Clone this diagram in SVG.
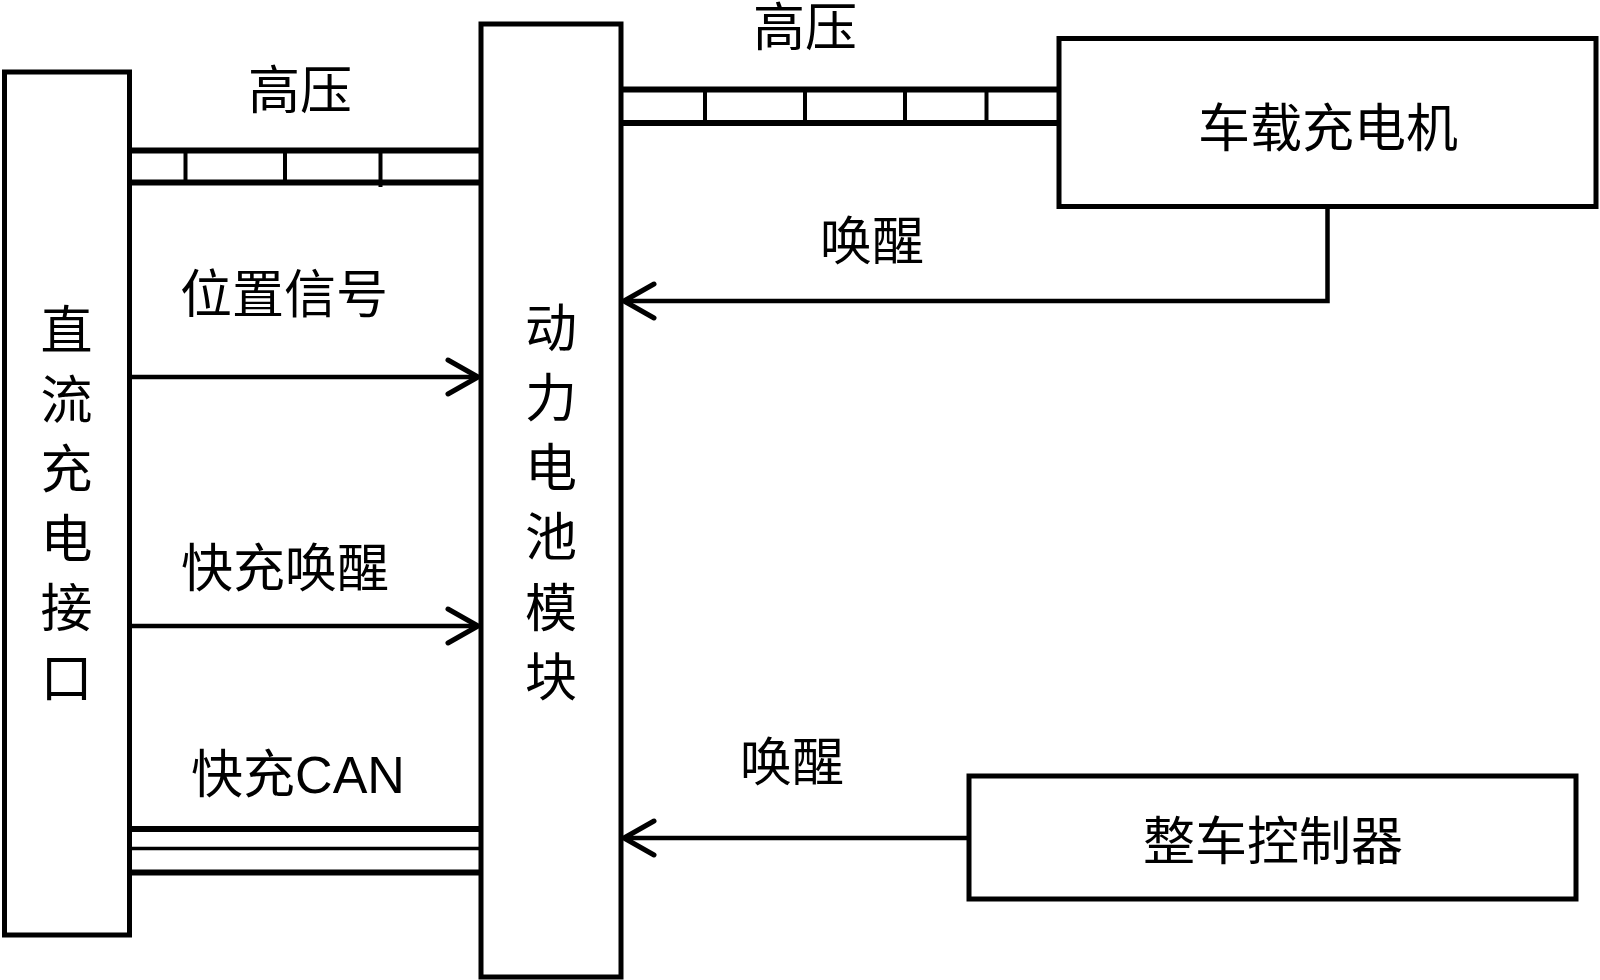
<svg xmlns="http://www.w3.org/2000/svg" width="1600" height="980" viewBox="0 0 1600 980">
<style>
.box{fill:#fff;stroke:#000;stroke-width:5}
.lbl{font-family:"Noto Sans CJK SC","Liberation Sans",sans-serif;font-size:52px;fill:#000;text-anchor:middle}
.rail{stroke:#000;stroke-width:6;fill:none}
.tick{stroke:#000;stroke-width:4;fill:none}
.thin{stroke:#000;stroke-width:3.5;fill:none}
.sig{stroke:#000;stroke-width:4.5;fill:none}
</style>
<defs>
<marker id="chev" viewBox="-36 -22 42 44" refX="0" refY="0" markerUnits="userSpaceOnUse" markerWidth="42" markerHeight="44" orient="auto">
<path d="M-30,-17 L0,0 L-30,17" fill="none" stroke="#000" stroke-width="5" stroke-linecap="round" stroke-linejoin="round"/>
</marker>
</defs>
<rect x="0" y="0" width="1600" height="980" fill="#fff"/>
<g id="connectors">
<g id="hv-left">
<line class="rail" x1="129" y1="150.5" x2="481" y2="150.5"/>
<line class="rail" x1="129" y1="182.5" x2="481" y2="182.5"/>
<line class="tick" x1="185.5" y1="150" x2="185.5" y2="183"/>
<line class="tick" x1="285" y1="150" x2="285" y2="183"/>
<line class="tick" x1="380.5" y1="150" x2="380.5" y2="187"/>
</g>
<g id="hv-right">
<line class="rail" x1="621" y1="89.5" x2="1059" y2="89.5"/>
<line class="rail" x1="621" y1="123" x2="1059" y2="123"/>
<line class="tick" x1="705" y1="89" x2="705" y2="123"/>
<line class="tick" x1="805" y1="89" x2="805" y2="123"/>
<line class="tick" x1="905" y1="89" x2="905" y2="123"/>
<line class="tick" x1="986.5" y1="89" x2="986.5" y2="123"/>
</g>
<line class="sig" x1="129" y1="377" x2="478" y2="377" marker-end="url(#chev)"/>
<line class="sig" x1="129" y1="626" x2="478" y2="626" marker-end="url(#chev)"/>
<g id="can">
<line class="rail" x1="129" y1="829" x2="481" y2="829"/>
<line class="thin" x1="129" y1="848.5" x2="481" y2="848.5"/>
<line class="rail" x1="129" y1="872.5" x2="481" y2="872.5"/>
</g>
<path class="sig" d="M1327.5,206 V301 H624" marker-end="url(#chev)"/>
<line class="sig" x1="969" y1="838" x2="624" y2="838" marker-end="url(#chev)"/>
</g>
<g id="dc-port">
<rect class="box" x="4.5" y="72" width="125" height="863"/>
<text class="lbl" x="66.5" y="349">直</text>
<text class="lbl" x="66.5" y="418.5">流</text>
<text class="lbl" x="66.5" y="488">充</text>
<text class="lbl" x="66.5" y="557.5">电</text>
<text class="lbl" x="66.5" y="627">接</text>
<text class="lbl" x="66.5" y="696.5">口</text>
</g>
<g id="battery">
<rect class="box" x="481" y="24" width="140" height="953"/>
<text class="lbl" x="551" y="347">动</text>
<text class="lbl" x="551" y="417">力</text>
<text class="lbl" x="551" y="487">电</text>
<text class="lbl" x="551" y="556">池</text>
<text class="lbl" x="551" y="627">模</text>
<text class="lbl" x="551" y="696">块</text>
</g>
<g id="obc">
<rect class="box" x="1059" y="38.5" width="537" height="168"/>
<text class="lbl" x="1328" y="147">车载充电机</text>
</g>
<g id="vcu">
<rect class="box" x="969" y="776" width="607" height="123"/>
<text class="lbl" x="1273" y="860">整车控制器</text>
</g>
<g id="labels">
<text class="lbl" x="300" y="109">高压</text>
<text class="lbl" x="805" y="46">高压</text>
<text class="lbl" x="872" y="260">唤醒</text>
<text class="lbl" x="284" y="313">位置信号</text>
<text class="lbl" x="285" y="587">快充唤醒</text>
<text class="lbl" x="298" y="793">快充<tspan font-family="Liberation Sans, Arial, sans-serif">CAN</tspan></text>
<text class="lbl" x="792" y="781">唤醒</text>
</g>
</svg>
